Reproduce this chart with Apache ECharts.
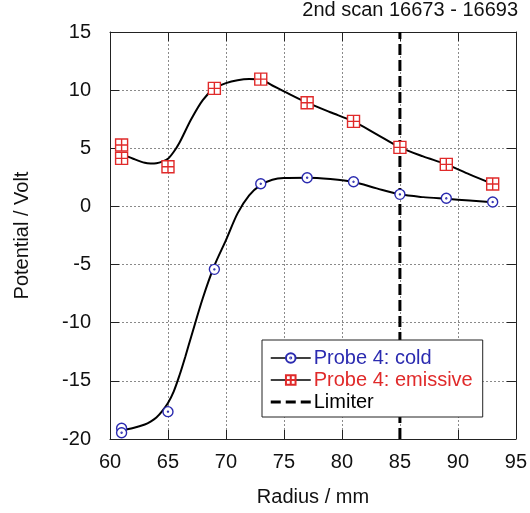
<!DOCTYPE html>
<html>
<head>
<meta charset="utf-8">
<script src="https://cdn.jsdelivr.net/npm/echarts@6/dist/echarts.min.js"></script>
<style>
html,body{margin:0;padding:0;background:#fff;}
#c{width:530px;height:513px;}
</style>
</head>
<body>
<div id="c"></div>
<script>
// Measured points
const radius = [61, 61, 65, 69, 73, 77, 81, 85, 89, 93];
const coldValues = [-19.08, -19.46, -17.65, -5.41, 1.95, 2.47, 2.12, 1.04, 0.70, 0.38];
const emissiveValues = [5.28, 4.13, 3.41, 10.15, 10.95, 8.92, 7.31, 5.08, 3.62, 1.93];

// Smoothed fit curves
const coldFitR = [61, 62, 63, 63.5, 64, 64.5, 65, 65.5, 66, 66.5, 67, 68, 69, 70, 71, 72, 73, 74, 75, 77, 79, 81, 83, 85, 87, 89, 91, 93];
const coldFitV = [-19.25, -19.05, -18.75, -18.5, -18.15, -17.6, -16.9, -15.9, -14.5, -12.9, -11.2, -7.9, -5.1, -2.9, -0.6, 0.95, 1.85, 2.3, 2.45, 2.47, 2.35, 2.1, 1.55, 1.04, 0.8, 0.65, 0.5, 0.35];
const emisFitR = [61, 62, 63, 63.5, 64, 64.5, 65, 65.5, 66, 67, 68, 69, 70, 71, 72, 73, 74, 75, 77, 79, 81, 83, 85, 87, 89, 91, 93];
const emisFitV = [4.5, 4.1, 3.75, 3.7, 3.72, 3.85, 4.1, 4.7, 5.5, 7.5, 9.15, 10.15, 10.6, 10.85, 10.95, 10.9, 10.4, 9.9, 8.92, 8.1, 7.31, 6.2, 5.08, 4.3, 3.62, 2.75, 1.93];

// Limiter
const limiterR = 85;

// Axes
const xMin = 60, xMax = 95, xStep = 5;
const yMin = -20, yMax = 15, yStep = 5;

const names = ['Probe 4: cold', 'Probe 4: emissive', 'Limiter'];
const titleText = '2nd scan 16673 - 16693';

const blue = '#2b2bb0';
const red = '#e02a2a';
const FONT = 'Liberation Sans, Arial, sans-serif';

const pair = (xs, ys) => xs.map((x, i) => [x, ys[i]]);

const circleDot = 'path://M0,10A10,10,0,1,1,20,10A10,10,0,1,1,0,10Z M10,9A1,1,0,1,1,10,11A1,1,0,1,1,10,9Z';
const squareCross = 'path://M0,0L20,0L20,20L0,20Z M10,0L10,20 M0,10L20,10';
const dashIcon = 'path://M0,0L10,0L10,3L0,3Z M15,0L25,0L25,3L15,3Z M30,0L40,0L40,3L30,3Z';

const chart = echarts.init(document.getElementById('c'), null, {renderer: 'canvas'});

const baseX = {type: 'value', min: xMin, max: xMax, interval: xStep};
const baseY = {type: 'value', min: yMin, max: yMax, interval: yStep};
const axisLineStyle = {onZero: false, show: true, lineStyle: {color: '#222', width: 1}};
const tickStyle = {show: true, inside: true, length: 9, lineStyle: {color: '#222'}};
const gridLine = {show: true, lineStyle: {color: '#8a8a8a', type: [2, 2], width: 1}};

chart.setOption({
  animation: false,
  backgroundColor: '#fff',
  textStyle: {fontFamily: FONT},
  title: {
    text: titleText, right: 12, top: 0, padding: 0,
    textStyle: {fontFamily: FONT, fontSize: 20, fontWeight: 'normal', color: '#111'}
  },
  grid: {left: 110, right: 13, top: 32, bottom: 74, containLabel: false},
  legend: {
    orient: 'vertical',
    left: 262, top: 340,
    padding: [8, 10, 5, 8],
    backgroundColor: '#fff',
    borderColor: '#222', borderWidth: 1,
    itemWidth: 40, itemHeight: 12, itemGap: 2,
    textStyle: {fontFamily: FONT, fontSize: 20, padding: [0, 0, 0, -2]},
    data: [
      {name: names[0], textStyle: {color: blue}, lineStyle: {color: '#000', width: 1.5, opacity: 1}},
      {name: names[1], textStyle: {color: red}, lineStyle: {color: '#000', width: 1.5, opacity: 1}},
      {name: names[2], icon: dashIcon, itemStyle: {color: '#000'}, textStyle: {color: '#000'}}
    ]
  },
  xAxis: [
    Object.assign({}, baseX, {
      position: 'bottom',
      name: 'Radius / mm', nameLocation: 'middle', nameGap: 48,
      nameTextStyle: {fontFamily: FONT, fontSize: 20, color: '#111'},
      axisLine: axisLineStyle,
      axisTick: tickStyle,
      axisLabel: {fontFamily: FONT, fontSize: 20, color: '#111', margin: 13},
      splitLine: gridLine
    }),
    Object.assign({}, baseX, {
      position: 'top',
      axisLine: axisLineStyle,
      axisTick: tickStyle,
      axisLabel: {show: false},
      splitLine: {show: false}
    })
  ],
  yAxis: [
    Object.assign({}, baseY, {
      position: 'left',
      name: 'Potential / Volt', nameLocation: 'middle', nameGap: 78, nameRotate: 90,
      nameTextStyle: {fontFamily: FONT, fontSize: 20, color: '#111'},
      axisLine: axisLineStyle,
      axisTick: tickStyle,
      axisLabel: {fontFamily: FONT, fontSize: 20, color: '#111', margin: 19},
      splitLine: gridLine
    }),
    Object.assign({}, baseY, {
      position: 'right',
      axisLine: axisLineStyle,
      axisTick: tickStyle,
      axisLabel: {show: false},
      splitLine: {show: false}
    })
  ],
  series: [
    {
      name: 'coldFit', type: 'line', smooth: 0.3, symbol: 'none', z: 2,
      data: pair(coldFitR, coldFitV),
      lineStyle: {color: '#000', width: 2}, silent: true
    },
    {
      name: 'emisFit', type: 'line', smooth: 0.3, symbol: 'none', z: 2,
      data: pair(emisFitR, emisFitV),
      lineStyle: {color: '#000', width: 2}, silent: true
    },
    {
      name: names[2], type: 'line', symbol: 'none', z: 2,
      data: [[limiterR, yMin], [limiterR, yMax]],
      lineStyle: {color: '#000', width: 3, type: [11, 5]}
    },
    {
      name: names[0], type: 'line', z: 3,
      data: pair(radius, coldValues),
      symbol: circleDot, symbolSize: 10,
      lineStyle: {opacity: 0, width: 0},
      itemStyle: {color: '#fff', borderColor: blue, borderWidth: 1.4}
    },
    {
      name: names[1], type: 'line', z: 3,
      data: pair(radius, emissiveValues),
      symbol: squareCross, symbolSize: 12,
      lineStyle: {opacity: 0, width: 0},
      itemStyle: {color: '#fff', borderColor: red, borderWidth: 1.4}
    }
  ]
});
</script>
</body>
</html>
